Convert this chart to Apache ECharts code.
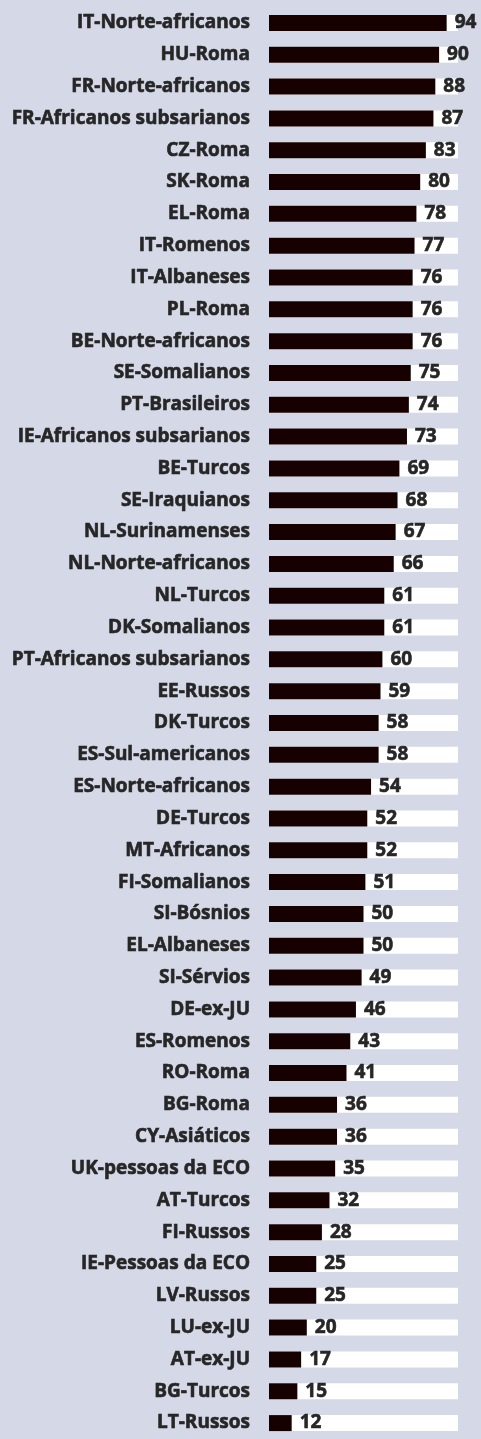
<!DOCTYPE html>
<html>
<head>
<meta charset="utf-8">
<script src="https://cdn.jsdelivr.net/npm/echarts@6/dist/echarts.min.js"></script>
<style>
html,body{margin:0;padding:0;background:#d5d8e6;}
#c{width:481px;height:1439px;}
</style>
</head>
<body>
<div id="c"></div>
<script>
const categories = [
  "IT-Norte-africanos","HU-Roma","FR-Norte-africanos","FR-Africanos subsarianos","CZ-Roma",
  "SK-Roma","EL-Roma","IT-Romenos","IT-Albaneses","PL-Roma",
  "BE-Norte-africanos","SE-Somalianos","PT-Brasileiros","IE-Africanos subsarianos","BE-Turcos",
  "SE-Iraquianos","NL-Surinamenses","NL-Norte-africanos","NL-Turcos","DK-Somalianos",
  "PT-Africanos subsarianos","EE-Russos","DK-Turcos","ES-Sul-americanos","ES-Norte-africanos",
  "DE-Turcos","MT-Africanos","FI-Somalianos","SI-Bósnios","EL-Albaneses",
  "SI-Sérvios","DE-ex-JU","ES-Romenos","RO-Roma","BG-Roma",
  "CY-Asiáticos","UK-pessoas da ECO","AT-Turcos","FI-Russos","IE-Pessoas da ECO",
  "LV-Russos","LU-ex-JU","AT-ex-JU","BG-Turcos","LT-Russos"
];
const values = [
  94,90,88,87,83,
  80,78,77,76,76,
  76,75,74,73,69,
  68,67,66,61,61,
  60,59,58,58,54,
  52,52,51,50,50,
  49,46,43,41,36,
  36,35,32,28,25,
  25,20,17,15,12
];

const chart = echarts.init(document.getElementById('c'), null, {renderer:'canvas'});
const font = '"Open Sans", sans-serif';
const txt = '#262626';
chart.setOption({
  backgroundColor: '#d5d8e6',
  animation: false,
  grid: {left: 269, top: 7, width: 189, height: 1440, containLabel: false},
  xAxis: {type:'value', min:0, max:100, show:false},
  yAxis: {
    type:'category', data: categories, inverse:true,
    axisLine:{show:false}, axisTick:{show:false}, splitLine:{show:false},
    axisLabel:{margin:19, color:txt, fontFamily:font, fontWeight:'bold', fontSize:19,
      textBorderColor:txt, textBorderWidth:0.6}
  },
  series: [{
    type:'bar', data: values, barWidth:16,
    itemStyle:{color:'#160000'},
    showBackground:true,
    backgroundStyle:{color:'#ffffff'},
    label:{show:true, position:'right', distance:8, color:txt, fontFamily:font, fontWeight:'bold', fontSize:19,
      textBorderColor:txt, textBorderWidth:0.6}
  }]
});
</script>
</body>
</html>
